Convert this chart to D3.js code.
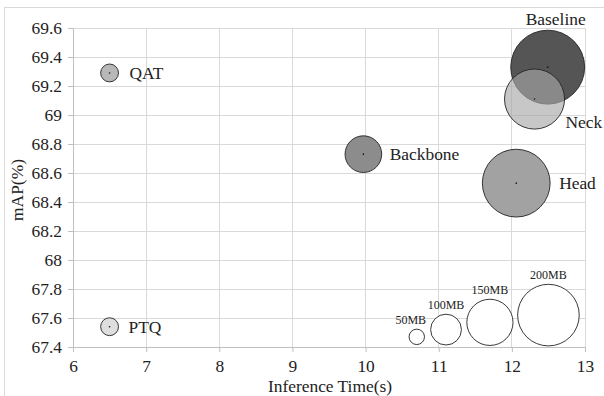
<!DOCTYPE html>
<html><head><meta charset="utf-8">
<script src="https://cdn.jsdelivr.net/npm/d3@7"></script>
<style>
html,body{margin:0;padding:0;background:#fff;}
svg{display:block;}
text{font-family:"Liberation Serif","Times New Roman",serif;fill:#222;}
</style></head>
<body>
<svg id="chart" width="604" height="396"></svg>
<script>
// ---- data ----
const methods = ["Baseline", "Neck", "Head", "Backbone", "QAT", "PTQ"];
const inferenceTimes = [12.49, 12.31, 12.06, 9.97, 6.5, 6.5];
const mapValues = [69.33, 69.11, 68.53, 68.73, 69.29, 67.54];
const modelSizes = [240, 195, 220, 119, 58, 58];

const legendLabels = ["50MB", "100MB", "150MB", "200MB"];
const legendSizes = [50, 100, 150, 200];
const legendTimes = [10.7, 11.1, 11.7, 12.5];
const legendMaps = [67.47, 67.52, 67.57, 67.62];

const xTicks = [6, 7, 8, 9, 10, 11, 12, 13];
const yTicks = [67.4, 67.6, 67.8, 68, 68.2, 68.4, 68.6, 68.8, 69, 69.2, 69.4, 69.6];

// ---- styles ----
const fills = {Baseline: "#555555", Neck: "#a8a8a8", Head: "#a2a2a2", Backbone: "#8c8c8c", QAT: "#b8b8b8", PTQ: "#dedede"};
const opac = {Baseline: 1, Neck: 0.64, Head: 1, Backbone: 1, QAT: 1, PTQ: 1};
const fs = 17.4;

const svg = d3.select("#chart");
const x = d3.scaleLinear().domain([6, 13]).range([73, 585]);
const y = d3.scaleLinear().domain([67.4, 69.6]).range([347, 28]);
const r = d3.scaleLinear().domain([0, 200]).range([0, 30.8]);

// outer frame
svg.append("rect").attr("x", 4.5).attr("y", 7.5).attr("width", 620).attr("height", 420)
  .attr("fill", "none").attr("stroke", "#d9d9d9");

// grid
const grid = svg.append("g");
grid.selectAll(".vg").data(xTicks.slice(1)).join("line")
  .attr("x1", d => x(d)).attr("x2", d => x(d)).attr("y1", y(69.6)).attr("y2", y(67.4))
  .attr("stroke", "#d9d9d9").attr("stroke-width", 1).attr("shape-rendering", "crispEdges");
grid.selectAll(".hg").data(yTicks.slice(1)).join("line")
  .attr("x1", x(6)).attr("x2", x(13)).attr("y1", d => y(d)).attr("y2", d => y(d))
  .attr("stroke", "#d9d9d9").attr("stroke-width", 1).attr("shape-rendering", "crispEdges");

// axes
const xAxis = d3.axisBottom(x).tickValues(xTicks).tickFormat(d3.format("d")).tickSize(5).tickPadding(7.5);
const yAxis = d3.axisLeft(y).tickValues(yTicks).tickFormat(d => (Math.round(d * 10) / 10).toString()).tickSize(5).tickPadding(6);
const gx = svg.append("g").attr("transform", `translate(0,${y(67.4)})`).call(xAxis);
const gy = svg.append("g").attr("transform", `translate(${x(6)},0)`).call(yAxis);
[gx, gy].forEach(g => {
  g.attr("font-family", null);
  g.select(".domain").attr("stroke", "#bfbfbf");
  g.selectAll(".tick line").attr("stroke", "#bfbfbf");
  g.selectAll(".tick text").attr("font-size", fs).attr("fill", "#222")
    .attr("font-family", '"Liberation Serif","Times New Roman",serif');
});

// axis titles
svg.append("text").attr("x", 330).attr("y", 392).attr("text-anchor", "middle")
  .attr("font-size", fs).text("Inference Time(s)");
svg.append("text").attr("transform", "translate(23,190) rotate(-90)").attr("text-anchor", "middle")
  .attr("font-size", fs).text("mAP(%)");

// bubbles
const data = methods.map((m, i) => ({m, t: inferenceTimes[i], v: mapValues[i], s: modelSizes[i]}));
const bub = svg.append("g");
bub.selectAll("circle.b").data(data).join("circle")
  .attr("cx", d => x(d.t)).attr("cy", d => y(d.v)).attr("r", d => r(d.s))
  .attr("fill", d => fills[d.m]).attr("fill-opacity", d => opac[d.m])
  .attr("stroke", "#222").attr("stroke-width", 0.9);
bub.selectAll("circle.c").data(data).join("circle")
  .attr("cx", d => x(d.t)).attr("cy", d => y(d.v)).attr("r", 0.8).attr("fill", "#111");

// labels
const lab = {
  Baseline: d => [x(d.t) + 8, y(d.v) - r(d.s) - 5, "middle"],
  Neck: d => [x(d.t) + r(d.s) + 1, y(d.v) + 29, "start"],
  Head: d => [x(d.t) + r(d.s) + 9, y(d.v) + 6, "start"],
  Backbone: d => [x(d.t) + r(d.s) + 8, y(d.v) + 6, "start"],
  QAT: d => [x(d.t) + r(d.s) + 11, y(d.v) + 6, "start"],
  PTQ: d => [x(d.t) + r(d.s) + 10, y(d.v) + 6, "start"]
};
svg.append("g").selectAll("text").data(data).join("text")
  .each(function(d) {
    const p = lab[d.m](d);
    d3.select(this).attr("x", p[0]).attr("y", p[1]).attr("text-anchor", p[2]);
  })
  .attr("font-size", fs).text(d => d.m);

// size legend
const leg = legendSizes.map((s, i) => ({s, t: legendTimes[i], v: legendMaps[i], l: legendLabels[i]}));
const lg = svg.append("g");
lg.selectAll("circle").data(leg).join("circle")
  .attr("cx", d => x(d.t)).attr("cy", d => y(d.v)).attr("r", d => r(d.s))
  .attr("fill", "#fff").attr("stroke", "#222").attr("stroke-width", 0.9);
lg.selectAll("text").data(leg).join("text")
  .attr("x", (d, i) => x(d.t) + (i === 0 ? -6 : 0))
  .attr("y", d => y(d.v) - r(d.s) - 5)
  .attr("text-anchor", "middle").attr("font-size", 12).text(d => d.l);
</script>
</body></html>
